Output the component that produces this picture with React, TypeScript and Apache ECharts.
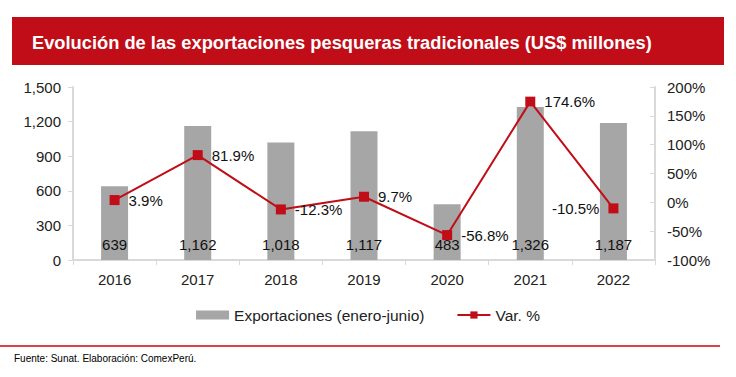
import React, { useEffect, useRef } from "react";
import * as echarts from "echarts";

const years = ["2016", "2017", "2018", "2019", "2020", "2021", "2022"];
const exportaciones = [639, 1162, 1018, 1117, 483, 1326, 1187];
const variacion = [3.9, 81.9, -12.3, 9.7, -56.8, 174.6, -10.5];
const leftTicks = [0, 300, 600, 900, 1200, 1500];
const rightTicks = [-100, -50, 0, 50, 100, 150, 200];

const FONT = "Liberation Sans, Arial, sans-serif";

export default function App() {
  const ref = useRef<HTMLDivElement>(null);
  useEffect(() => {
    if (!ref.current) return;
    const chart = echarts.init(ref.current, undefined, { renderer: "svg" });
    chart.setOption({
      animation: false,
      backgroundColor: "#ffffff",
      textStyle: { fontFamily: FONT },
      graphic: [
        { type: "rect", shape: { x: 12, y: 17, width: 712, height: 48 }, style: { fill: "#c00d17" } },
        {
          type: "text",
          x: 32,
          y: 42,
          style: {
            text: "Evolución de las exportaciones pesqueras tradicionales (US$ millones)",
            fill: "#ffffff",
            font: "bold 18.3px " + FONT,
            verticalAlign: "middle",
          },
        },
        { type: "rect", shape: { x: 0, y: 345, width: 720, height: 2 }, style: { fill: "#d9434b" } },
        {
          type: "text",
          x: 14,
          y: 358,
          style: {
            text: "Fuente: Sunat. Elaboración: ComexPerú.",
            fill: "#000000",
            font: "10px " + FONT,
            verticalAlign: "middle",
          },
        },
      ],
      legend: {
        bottom: 49,
        left: "center",
        itemGap: 32,
        itemWidth: 33,
        itemHeight: 9,
        textStyle: { fontSize: 15.5, color: "#222", fontFamily: FONT },
        data: [
          { name: "Exportaciones (enero-junio)", icon: "rect" },
          { name: "Var. %" },
        ],
      },
      grid: { left: 73, right: 81, top: 87, bottom: 117 },
      xAxis: {
        type: "category",
        data: years,
        axisLine: { lineStyle: { color: "#d9d9d9", width: 2 } },
        axisTick: { show: true, length: 5, lineStyle: { color: "#d9d9d9", width: 1 } },
        axisLabel: { fontSize: 15, color: "#222", margin: 12, fontFamily: FONT },
      },
      yAxis: [
        {
          type: "value",
          min: leftTicks[0],
          max: leftTicks[leftTicks.length - 1],
          interval: 300,
          axisLine: { show: true, lineStyle: { color: "#d9d9d9", width: 2 } },
          axisTick: { show: true, length: 5, lineStyle: { color: "#d9d9d9" } },
          splitLine: { show: false },
          axisLabel: {
            fontSize: 15,
            color: "#222",
            margin: 12,
            fontFamily: FONT,
            formatter: (v: number) => v.toLocaleString("en-US"),
          },
        },
        {
          type: "value",
          min: rightTicks[0],
          max: rightTicks[rightTicks.length - 1],
          interval: 50,
          position: "right",
          axisLine: { show: true, lineStyle: { color: "#d9d9d9", width: 2 } },
          axisTick: { show: true, inside: true, length: 5, lineStyle: { color: "#d9d9d9" } },
          splitLine: { show: false },
          axisLabel: { fontSize: 15, color: "#222", margin: 12, fontFamily: FONT, formatter: "{value}%" },
        },
      ],
      series: [
        {
          name: "Exportaciones (enero-junio)",
          type: "bar",
          data: exportaciones,
          barWidth: 27,
          itemStyle: { color: "#a6a6a6" },
          label: {
            show: true,
            position: "insideBottom",
            distance: 8,
            fontSize: 15,
            color: "#111",
            fontFamily: FONT,
            formatter: (p: any) => Number(p.value).toLocaleString("en-US"),
          },
        },
        {
          name: "Var. %",
          type: "line",
          yAxisIndex: 1,
          data: variacion.map((v, i) => ({
            value: v,
            label: { position: i === 6 ? "left" : "right" },
          })),
          symbol: "rect",
          symbolSize: 10,
          lineStyle: { color: "#c00d17", width: 2 },
          itemStyle: { color: "#c00d17" },
          label: {
            show: true,
            position: "right",
            distance: 9,
            fontSize: 15,
            color: "#111",
            fontFamily: FONT,
            formatter: (p: any) => Number(p.value).toFixed(1) + "%",
          },
        },
      ],
    });
    return () => chart.dispose();
  }, []);
  return (
    <div
      ref={ref}
      style={{ position: "fixed", left: 0, top: 0, width: 736, height: 377, background: "#fff" }}
    />
  );
}
